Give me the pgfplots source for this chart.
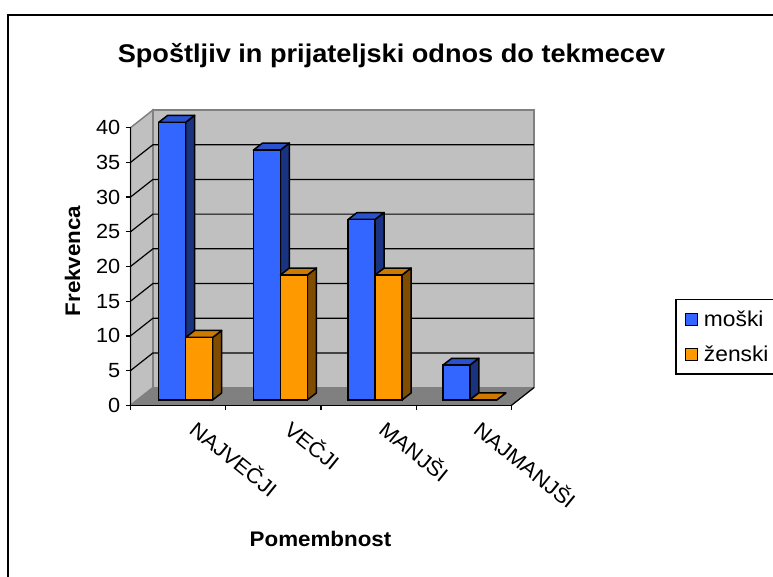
\documentclass[border=0pt]{standalone}
\usepackage{pgfplots}
\pgfplotsset{compat=1.18}
\usepackage{fontspec}
\setmainfont[FakeStretch=1.06]{Liberation Sans}
\definecolor{wall}{HTML}{C0C0C0}
\definecolor{floorc}{HTML}{808080}
\definecolor{blueF}{HTML}{3366FF}
\definecolor{blueT}{HTML}{2952CC}
\definecolor{blueS}{HTML}{1A3380}
\definecolor{orF}{HTML}{FF9900}
\definecolor{orT}{HTML}{CC7A00}
\definecolor{orS}{HTML}{804D00}
\newcommand{\gl}[2]{\addplot[black,line width=1.2pt,forget plot] coordinates {(0,#1) (0.236,#2) (4.236,#2)};}
% x0, x1, value, value + depth, x0 + depth, x1 + depth, top colour, side colour
\newcommand{\depthfaces}[8]{%
 \addplot[fill=#8,draw=black,line width=1.5pt,line join=round,forget plot] coordinates {(#2,0) (#6,1) (#6,#4) (#2,#3)} --cycle;
 \addplot[fill=#7,draw=black,line width=1.5pt,line join=round,forget plot] coordinates {(#1,#3) (#5,#4) (#6,#4) (#2,#3)} --cycle;}
\pgfplotsset{sqlegend/.style={legend image code/.code={\draw[fill=#1,draw=black,line width=1.2pt] (0pt,-6pt) rectangle (12pt,6pt);}}}
\begin{document}
\begin{tikzpicture}[x=1pt,y=1pt]
\path[use as bounding box] (0,0) rectangle (773,577);
\draw[black,line width=1.5pt] (8,0) -- (8,562) -- (773,562);
\begin{axis}[
  at={(130.5pt,171.7pt)}, anchor=south west, scale only axis, width=381pt, height=277.6pt,
  xmin=0, xmax=4, ymin=0, ymax=40, clip=false, axis on top,
  axis x line*=bottom, axis y line*=left,
  axis line style={black,line width=1.5pt,-},
  tick style={black,line width=1.3pt}, major tick length=5pt, tick align=outside,
  xtick={0,1,2,3,4}, xticklabels={}, ytick={0,5,...,40},
  tick label style={font=\fontsize{20.5}{20.5}\selectfont},
  /pgf/number format/assume math mode=true,
  yticklabel style={inner sep=0pt,xshift=-5pt},
  title={\fontsize{25.6}{27}\selectfont\bfseries Spoštljiv in prijateljski odnos do tekmecev},
  title style={at={(axis description cs:0.685,1.2367)},anchor=center},
  xlabel={\fontsize{21.1}{23}\selectfont\bfseries Pomembnost},
  xlabel style={at={(axis description cs:0.4987,-0.4816)},anchor=center},
  ylabel={\fontsize{21.1}{23}\selectfont\bfseries Frekvenca},
  ylabel style={at={(axis description cs:-0.152,0.52)},anchor=center},
]
\addplot[fill=wall,draw=floorc,line width=1.5pt,forget plot] coordinates {(0,0) (0.236,2.55) (0.236,42.55) (0,40)} --cycle;
\addplot[fill=wall,draw=floorc,line width=1.5pt,forget plot] coordinates {(0.236,2.55) (4.236,2.55) (4.236,42.55) (0.236,42.55)} --cycle;
\addplot[fill=floorc,draw=floorc,line width=1pt,forget plot] coordinates {(0,0) (0.236,2.55) (4.236,2.55) (4,0)} --cycle;
\addplot[black,line width=1.2pt,forget plot] coordinates {(4,0) (4.236,2.55)};
\gl{5}{7.55}\gl{10}{12.55}\gl{15}{17.55}\gl{20}{22.55}\gl{25}{27.55}\gl{30}{32.55}\gl{35}{37.55}
\end{axis}
\begin{axis}[
  at={(138.35pt,177.1pt)}, anchor=south west, scale only axis, width=378.8pt, height=277.6pt,
  xmin=0, xmax=4, ymin=0, ymax=40, clip=false,
  axis y line=none, axis x line*=bottom, axis line style={draw=none},
  xtick={0.5,1.5,2.5,3.5}, xticklabels={NAJVEČJI,VEČJI,MANJŠI,NAJMANJŠI},
  major tick length=0pt,
  x tick label style={font=\fontsize{20.9}{21}\selectfont,xshift=8pt,yshift=-25pt,rotate=-39,anchor=west,inner sep=0pt},
  legend style={at={(1.4167,0.3635)},anchor=north west,draw=black,line width=1.5pt,fill=white,
    font=\fontsize{21.5}{21.5}\selectfont,inner xsep=9pt,inner ysep=9pt,row sep=14pt,
    cells={anchor=west},/tikz/every odd column/.append style={column sep=4pt}},
  legend cell align=left,
]
\depthfaces{0.215}{0.5}{40}{41}{0.31}{0.595}{blueT}{blueS}
\depthfaces{1.215}{1.5}{36}{37}{1.31}{1.595}{blueT}{blueS}
\depthfaces{2.215}{2.5}{26}{27}{2.31}{2.595}{blueT}{blueS}
\depthfaces{3.215}{3.5}{5}{6}{3.31}{3.595}{blueT}{blueS}
\addplot[ybar,sqlegend=blueF,bar width=27pt,bar shift=-13.5pt,fill=blueF,draw=black,line width=1.5pt] coordinates {(0.5,40) (1.5,36) (2.5,26) (3.5,5)};
\addlegendentry{moški}
\depthfaces{0.5}{0.785}{9}{10}{0.595}{0.88}{orT}{orS}
\depthfaces{1.5}{1.785}{18}{19}{1.595}{1.88}{orT}{orS}
\depthfaces{2.5}{2.785}{18}{19}{2.595}{2.88}{orT}{orS}
\depthfaces{3.5}{3.785}{0}{1}{3.595}{3.88}{orT}{orS}
\addplot[ybar,sqlegend=orF,bar width=27pt,bar shift=13.5pt,fill=orF,draw=black,line width=1.5pt] coordinates {(0.5,9) (1.5,18) (2.5,18) (3.5,0)};
\addlegendentry{ženski}
\end{axis}
\end{tikzpicture}
\end{document}
